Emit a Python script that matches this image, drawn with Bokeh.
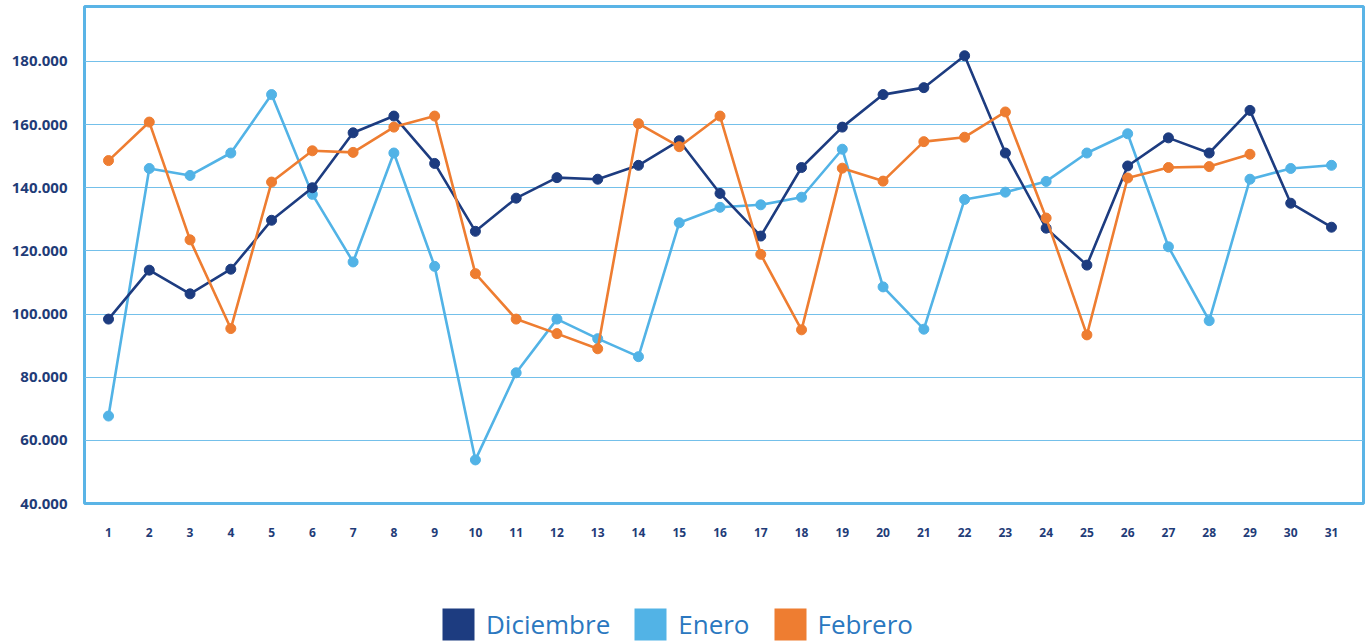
from bokeh.plotting import figure
from bokeh.layouts import column
from bokeh.models import Legend, LegendItem, FixedTicker, Range1d, ColumnDataSource
from bokeh.embed import file_html
from bokeh.resources import INLINE

days = list(range(1, 32))
diciembre = [98400, 113900, 106400, 114200, 129700, 140000, 157400, 162700, 147700,
             126200, 136700, 143200, 142700, 147100, 154900, 138200, 124700, 146400,
             159200, 169500, 171700, 181800, 151000, 127200, 115500, 146900, 155800,
             151000, 164500, 135100, 127500]
enero = [67700, 146100, 143900, 151000, 169500, 137900, 116500, 151000, 115100,
         53800, 81400, 98400, 92200, 86500, 128900, 133800, 134600, 137000,
         152200, 108600, 95200, 136300, 138600, 142000, 151000, 157100, 121300,
         97900, 142700, 146100, 147100]
febrero = [148600, 160800, 123500, 95400, 141800, 151700, 151200, 159200, 162700,
           112800, 98400, 93800, 89000, 160300, 153000, 162700, 118900, 95000,
           146200, 142100, 154600, 156000, 164000, 130400, 93400, 143100, 146400,
           146700, 150600]
series_names = ["Diciembre", "Enero", "Febrero"]
series_colors = ["#1d3c80", "#52b3e6", "#ee7d31"]
y_ticks = [40000, 60000, 80000, 100000, 120000, 140000, 160000, 180000]
y_tick_labels = ["40.000", "60.000", "80.000", "100.000", "120.000", "140.000", "160.000", "180.000"]

TICK_COLOR = "#1f3c78"
FONT = "Open Sans"

W = 1368
H_MAIN = 590
H_LEG = 51

p = figure(width=W, height=H_MAIN, output_backend="svg", toolbar_location=None,
           x_range=Range1d(0.411, 31.785), y_range=Range1d(40000, 197400),
           min_border_left=84, min_border_right=W - 1363, min_border_top=6,
           min_border_bottom=H_MAIN - 503,
           background_fill_color="white", border_fill_color="white")

p.outline_line_color = "#5ab4e6"
p.outline_line_width = 3

p.xgrid.grid_line_color = None
p.ygrid.grid_line_color = "#74c0ea"
p.ygrid.grid_line_width = 1.2
p.ygrid.ticker = FixedTicker(ticks=y_ticks)

p.yaxis.ticker = FixedTicker(ticks=y_ticks)
p.yaxis.major_label_overrides = {t: l for t, l in zip(y_ticks, y_tick_labels)}
p.xaxis.ticker = FixedTicker(ticks=days)
p.xaxis.major_label_overrides = {d: str(d) for d in days}

for ax in (p.xaxis[0], p.yaxis[0]):
    ax.axis_line_color = None
    ax.major_tick_line_color = None
    ax.minor_tick_line_color = None
    ax.major_label_text_color = TICK_COLOR
    ax.major_label_text_font = FONT
    ax.major_label_text_font_style = "bold"

p.yaxis.major_label_text_font_size = "15px"
p.yaxis.major_label_standoff = 11
p.xaxis.major_label_text_font_size = "12px"
p.xaxis.major_label_standoff = 18

data = [diciembre, enero, febrero]
order = [1, 0, 2]
for i in order:
    vals = data[i]
    src = ColumnDataSource(dict(x=days[:len(vals)], y=vals))
    p.line("x", "y", source=src, line_color=series_colors[i], line_width=2.6)
    p.scatter("x", "y", source=src, size=10, fill_color=series_colors[i], line_color=series_colors[i])

# legend strip below the chart
lf = figure(width=W, height=H_LEG, output_backend="svg", toolbar_location=None,
            x_range=Range1d(0, 1), y_range=Range1d(0, 1),
            x_axis_type=None, y_axis_type=None,
            min_border_left=0, min_border_right=0, min_border_top=0, min_border_bottom=0,
            background_fill_color="white", border_fill_color="white")
lf.outline_line_color = None
lf.xgrid.grid_line_color = None
lf.ygrid.grid_line_color = None

nan = float("nan")
items = []
for i, name in enumerate(series_names):
    r = lf.quad(left=[nan], right=[nan], top=[nan], bottom=[nan],
                fill_color=series_colors[i], line_color=None)
    items.append(LegendItem(label=name, renderers=[r]))

legend = Legend(items=items, orientation="horizontal", location=(354, -3),
                glyph_width=40, glyph_height=40, label_standoff=8, spacing=20,
                padding=0, margin=0, border_line_alpha=0, background_fill_alpha=0,
                label_text_font_size="26px", label_text_color="#2b78c0",
                label_text_font=FONT)
lf.add_layout(legend, "center")

layout = column(p, lf, spacing=0)
open("out.html", "w").write(file_html(layout, INLINE))
